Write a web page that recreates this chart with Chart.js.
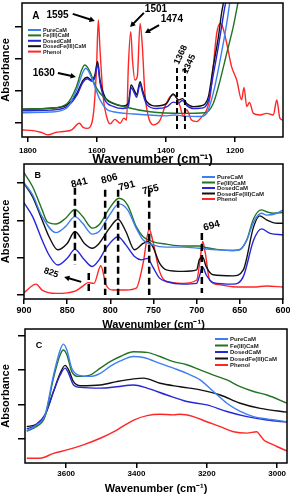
<!DOCTYPE html>
<html>
<head>
<meta charset="utf-8">
<script src="https://cdn.jsdelivr.net/npm/chart.js@4.4.1/dist/chart.umd.min.js"></script>
<style>
  html, body { margin: 0; padding: 0; background: #fff; }
  #wrap { position: relative; width: 290px; height: 496px; }
  .panel { position: absolute; left: 0; top: 0; width: 290px; height: 496px; }
</style>
</head>
<body>
<div id="wrap">
  <div class="panel"><canvas id="chartA"></canvas></div>
  <div class="panel"><canvas id="chartB"></canvas></div>
  <div class="panel"><canvas id="chartC"></canvas></div>
</div>
<script>
// series names, same order in every panel
var seriesNames = ['PureCaM', 'Fe(III)CaM', 'DosedCaM', 'DosedFe(III)CaM', 'Phenol'];

// tick labels
var xTicksA = [1800, 1600, 1400, 1200];
var xTicksB = [900, 850, 800, 750, 700, 650, 600];
var xTicksC = [3600, 3400, 3200, 3000];
var yTicks = [1, 2, 3, 4];

// panel A: [wavenumber, absorbance]
var pureA = [[1815,1.32],[1736,1.34],[1688,1.46],[1659,2.03],[1640,2.60],[1632,2.71],[1615,2.40],[1601,1.98],[1591,1.72],[1572,1.43],[1553,1.35],[1495,1.28],[1398,1.22],[1374,1.25],[1355,1.22],[1301,1.20],[1282,1.30],[1263,1.93],[1243,2.97],[1224,4.11],[1214,4.84],[1200,5.6]];
var feA = [[1815,1.43],[1736,1.46],[1688,1.59],[1659,2.14],[1644,2.66],[1635,2.81],[1620,2.60],[1606,2.19],[1591,1.93],[1562,1.67],[1514,1.49],[1446,1.35],[1350,1.30],[1287,1.32],[1263,1.61],[1243,2.34],[1224,3.18],[1205,4.01],[1190,4.84],[1175,5.6]];
var dosedA = [[1815,1.38],[1736,1.40],[1688,1.50],[1659,1.85],[1640,2.28],[1628,2.38],[1615,2.30],[1606,2.42],[1598,2.82],[1591,2.25],[1577,1.72],[1553,1.52],[1524,1.45],[1509,1.52],[1501,2.10],[1490,1.90],[1485,1.80],[1475,2.22],[1468,1.95],[1456,1.58],[1427,1.45],[1398,1.50],[1379,1.65],[1364,1.62],[1352,1.70],[1340,1.55],[1321,1.45],[1301,1.46],[1287,1.50],[1277,1.70],[1263,2.50],[1248,3.40],[1239,4.00],[1230,4.60],[1222,5.0],[1210,5.6]];
var dosedFeA = [[1815,1.43],[1736,1.46],[1688,1.56],[1659,1.91],[1640,2.34],[1628,2.43],[1615,2.34],[1606,2.50],[1598,2.92],[1591,2.34],[1577,1.82],[1553,1.61],[1524,1.53],[1509,1.61],[1501,2.19],[1490,1.98],[1485,1.88],[1475,2.29],[1468,2.03],[1456,1.67],[1427,1.53],[1398,1.61],[1379,1.91],[1364,1.72],[1352,1.76],[1340,1.61],[1321,1.51],[1301,1.53],[1287,1.59],[1277,1.82],[1263,2.76],[1248,3.70],[1239,4.43],[1232,4.84],[1220,5.6]];
var phenolA = [[1815,0.78],[1785,0.76],[1760,0.70],[1741,0.63],[1720,0.70],[1698,0.73],[1673,0.78],[1651,0.99],[1640,0.86],[1628,0.83],[1615,0.99],[1608,1.51],[1601,2.76],[1596,4.22],[1591,3.28],[1582,1.82],[1572,1.20],[1562,0.97],[1548,1.11],[1533,0.99],[1522,1.15],[1514,1.09],[1509,2.76],[1502,3.85],[1497,2.97],[1490,2.34],[1483,2.45],[1475,4.11],[1469,3.49],[1461,1.93],[1451,1.20],[1437,0.94],[1417,1.09],[1403,1.51],[1388,1.82],[1376,1.88],[1359,1.51],[1350,1.20],[1340,1.41],[1326,1.09],[1311,1.04],[1297,1.18],[1282,1.41],[1272,1.82],[1263,2.76],[1253,3.80],[1243,4.11],[1236,4.01],[1224,3.49],[1210,2.76],[1195,2.34],[1181,1.72],[1174,2.11],[1166,1.51],[1158,1.64],[1147,1.30],[1128,1.25],[1108,1.30],[1089,1.25],[1079,1.72],[1070,1.15],[1062,1.09]];

// panel B
var pureB = [[900,4.01],[890,3.68],[879,3.10],[863,2.67],[852,2.83],[841,3.10],[832,2.92],[821,2.63],[813,2.70],[801,3.14],[790,3.44],[780,3.28],[770,2.79],[762,2.47],[751,2.34],[735,2.28],[716,2.28],[697,2.25],[677,2.21],[658,2.19],[650,2.22],[642,2.47],[634,2.96],[625,3.19],[619,3.14],[607,3.19],[600,3.28]];
var feB = [[900,4.28],[890,3.90],[879,3.28],[873,2.96],[863,2.90],[852,3.05],[841,3.29],[832,3.10],[821,2.79],[813,2.88],[801,3.32],[790,3.59],[780,3.41],[770,2.83],[762,2.56],[751,2.43],[735,2.36],[716,2.31],[697,2.31],[691,2.28],[677,2.22],[658,2.19],[650,2.21],[642,2.47],[634,3.05],[625,3.28],[619,3.23],[611,3.19],[600,3.21]];
var dosedB = [[900,3.47],[890,3.10],[879,2.47],[871,2.07],[861,1.80],[850,1.98],[841,2.22],[830,1.94],[821,1.76],[813,1.94],[805,2.25],[791,2.56],[782,2.34],[772,2.03],[764,1.94],[757,1.98],[751,1.76],[743,1.45],[735,1.36],[716,1.29],[700,1.31],[697,1.49],[693,1.74],[689,1.54],[681,1.33],[658,1.29],[646,1.49],[634,2.47],[625,2.77],[615,2.65],[600,2.61]];
var dosedFeB = [[900,3.99],[890,3.63],[879,3.01],[871,2.56],[861,2.21],[850,2.38],[841,2.70],[830,2.38],[821,2.25],[813,2.38],[801,2.79],[791,3.03],[782,2.70],[772,2.21],[762,2.38],[757,2.43],[751,2.30],[743,1.85],[735,1.67],[716,1.63],[700,1.67],[697,1.94],[693,2.01],[689,1.76],[681,1.54],[658,1.51],[646,1.67],[634,2.83],[627,3.12],[619,3.01],[607,2.92],[600,2.92]];
var phenolB = [[900,1.06],[886,1.29],[879,1.13],[863,1.04],[840,1.11],[830,1.27],[826,1.33],[819,1.31],[811,1.78],[805,1.27],[797,1.13],[782,1.13],[770,1.18],[762,1.85],[755,2.76],[751,2.47],[743,1.63],[735,1.36],[716,1.31],[700,1.40],[696,1.94],[693,2.43],[690,2.12],[685,1.40],[673,1.27],[658,1.22],[634,1.21],[619,1.24],[600,1.21]];

// panel C
var pureC = [[3712,1.23],[3684,1.41],[3660,1.70],[3636,2.86],[3617,3.59],[3608,3.76],[3598,3.59],[3584,3.06],[3565,2.86],[3532,2.82],[3503,2.91],[3475,3.11],[3446,3.27],[3408,3.40],[3380,3.37],[3333,3.20],[3295,3.06],[3257,2.91],[3219,2.72],[3181,2.38],[3143,2.04],[3105,1.80],[3067,1.65],[3029,1.58],[2972,1.50]];
var feC = [[3712,1.23],[3684,1.36],[3660,1.65],[3636,2.77],[3617,3.45],[3608,3.59],[3598,3.45],[3584,2.96],[3565,2.82],[3532,2.86],[3503,3.06],[3475,3.25],[3446,3.40],[3408,3.54],[3370,3.52],[3333,3.40],[3295,3.25],[3257,3.16],[3219,3.01],[3181,2.86],[3143,2.72],[3105,2.52],[3067,2.38],[3029,2.28],[2972,2.04]];
var dosedC = [[3712,1.29],[3684,1.41],[3660,1.70],[3636,2.38],[3617,2.86],[3603,3.06],[3593,2.91],[3579,2.57],[3560,2.50],[3503,2.48],[3456,2.52],[3408,2.57],[3370,2.48],[3314,2.28],[3257,2.09],[3200,1.99],[3143,1.80],[3086,1.65],[3029,1.55],[2972,1.49]];
var dosedFeC = [[3712,1.36],[3684,1.43],[3660,1.70],[3636,2.38],[3617,2.91],[3603,3.14],[3593,3.01],[3579,2.67],[3560,2.55],[3503,2.57],[3456,2.67],[3408,2.75],[3380,2.77],[3333,2.62],[3276,2.52],[3219,2.43],[3162,2.28],[3105,2.04],[3048,1.89],[2972,1.78]];
var phenolC = [[3712,0.44],[3674,0.44],[3636,0.58],[3598,0.68],[3551,0.83],[3503,1.02],[3456,1.26],[3408,1.55],[3370,1.68],[3333,1.72],[3295,1.70],[3276,1.72],[3238,1.65],[3200,1.50],[3162,1.36],[3124,1.21],[3086,1.17],[3058,1.21],[3048,1.10],[3038,0.97],[3020,0.87],[3001,0.78],[2972,0.65]];

var seriesColors = ['#3d7ff2', '#237323', '#2626d6', '#111111', '#ff2626'];
var FONT = '"Liberation Sans", Arial, sans-serif';

// frame, dashed markers, arrows, peak labels and the small legend
var panelDeco = {
    id: 'panelDeco',
    afterDatasetsDraw: function (chart, args, opts) {
        var ctx = chart.ctx, a = chart.chartArea;
        var xs = chart.scales.x, ys = chart.scales.y;
        function px(w) { return xs.getPixelForValue(w); }
        function py(v) { return ys.getPixelForValue(v); }
        ctx.save();
        ctx.strokeStyle = '#000';
        ctx.lineWidth = 1.5;
        ctx.strokeRect(a.left, a.top, a.right - a.left, a.bottom - a.top);

        ctx.lineWidth = opts.dashWidth;
        ctx.setLineDash(opts.dash);
        (opts.dashes || []).forEach(function (d) {
            ctx.beginPath();
            ctx.moveTo(px(d.at), py(d.from));
            ctx.lineTo(px(d.at), py(d.to));
            ctx.stroke();
        });
        ctx.setLineDash([]);

        ctx.lineWidth = 2;
        ctx.fillStyle = '#000';
        (opts.arrows || []).forEach(function (r) {
            var x1 = px(r.from[0]), y1 = py(r.from[1]), x2 = px(r.to[0]), y2 = py(r.to[1]);
            var ang = Math.atan2(y2 - y1, x2 - x1);
            ctx.beginPath();
            ctx.moveTo(x1, y1);
            ctx.lineTo(x2 - 3 * Math.cos(ang), y2 - 3 * Math.sin(ang));
            ctx.stroke();
            ctx.beginPath();
            ctx.moveTo(x2, y2);
            ctx.lineTo(x2 - 6 * Math.cos(ang - 0.5), y2 - 6 * Math.sin(ang - 0.5));
            ctx.lineTo(x2 - 6 * Math.cos(ang + 0.5), y2 - 6 * Math.sin(ang + 0.5));
            ctx.closePath();
            ctx.fill();
        });

        ctx.textAlign = 'center';
        ctx.textBaseline = 'middle';
        (opts.notes || []).forEach(function (n) {
            ctx.save();
            ctx.translate(px(n.at[0]), py(n.at[1]));
            ctx.rotate((n.angle || 0) * Math.PI / 180);
            ctx.font = 'bold ' + n.size + 'px ' + FONT;
            ctx.fillText(n.text, 0, 0);
            ctx.restore();
        });

        var lg = opts.legend;
        ctx.font = 'bold ' + lg.size + 'px ' + FONT;
        ctx.textAlign = 'left';
        chart.data.datasets.forEach(function (ds, i) {
            var yy = a.top + lg.y + i * lg.gap;
            ctx.strokeStyle = ds.borderColor;
            ctx.lineWidth = 2;
            ctx.beginPath();
            ctx.moveTo(a.left + lg.x, yy);
            ctx.lineTo(a.left + lg.x + lg.len, yy);
            ctx.stroke();
            ctx.fillStyle = '#222';
            ctx.fillText(ds.label, a.left + lg.x + lg.len + 2, yy + 0.5);
        });
        ctx.restore();
    }
};

function buildPanel(canvasId, series, cfg) {
    var ctx = document.getElementById(canvasId).getContext('2d');
    new Chart(ctx, {
        type: 'line',
        data: {
            datasets: series.map(function (pts, i) {
                return {
                    label: seriesNames[i],
                    data: pts.map(function (p) { return { x: p[0], y: p[1] }; }),
                    borderColor: seriesColors[i],
                    borderWidth: 1.4,
                    pointRadius: 0,
                    fill: false,
                    cubicInterpolationMode: 'monotone'
                };
            })
        },
        options: {
            responsive: true,
            maintainAspectRatio: false,
            animation: false,
            events: [],
            layout: { padding: cfg.padding },
            plugins: {
                legend: { display: false },
                tooltip: { enabled: false },
                panelDeco: cfg.deco
            },
            scales: {
                x: {
                    type: 'linear',
                    reverse: true,
                    min: cfg.xMin,
                    max: cfg.xMax,
                    afterBuildTicks: function (scale) {
                        scale.ticks = cfg.xTicks.map(function (v) { return { value: v }; });
                    },
                    afterFit: function (scale) {
                        scale.height = cfg.xHeight;
                        scale.paddingLeft = 0;
                        scale.paddingRight = 0;
                    },
                    border: { display: false },
                    grid: { drawOnChartArea: false, color: '#000', lineWidth: 1.5, tickLength: 5 },
                    ticks: {
                        color: '#000',
                        padding: cfg.tickPad,
                        maxRotation: 0,
                        autoSkip: false,
                        font: { family: FONT, size: cfg.tickSize, weight: 'bold' },
                        callback: function (v) { return String(v); }
                    },
                    title: {
                        display: true,
                        text: 'Wavenumber (cm\u207B\u00B9)',
                        color: '#000',
                        padding: 0,
                        font: { family: FONT, size: cfg.titleSize, weight: 'bold', lineHeight: 1 }
                    }
                },
                y: {
                    min: cfg.yMin,
                    max: cfg.yMax,
                    afterBuildTicks: function (scale) {
                        scale.ticks = yTicks.map(function (v) { return { value: v }; });
                    },
                    afterFit: function (scale) { scale.width = cfg.yWidth; },
                    border: { display: false },
                    grid: { drawOnChartArea: false, color: '#000', lineWidth: 1.5, tickLength: 7 },
                    ticks: { display: false },
                    title: {
                        display: true,
                        text: 'Absorbance',
                        color: '#000',
                        padding: 0,
                        font: { family: FONT, size: 11, weight: 'bold', lineHeight: 1 }
                    }
                }
            }
        },
        plugins: [panelDeco]
    });
}

buildPanel('chartA', [pureA, feA, dosedA, dosedFeA, phenolA], {
    padding: { top: 3, bottom: 330, left: 0, right: 7 },
    xMin: 1061, xMax: 1817, xTicks: xTicksA, xHeight: 29, yWidth: 22,
    yMin: 0.56, yMax: 4.75, tickSize: 8, tickPad: 4, titleSize: 13,
    deco: {
        dash: [5, 3], dashWidth: 2,
        dashes: [{ at: 1368, from: 2.72, to: 0.75 }, { at: 1345, from: 2.72, to: 0.75 }],
        arrows: [
            { from: [1670, 4.41], to: [1606, 4.19] },
            { from: [1464, 4.44], to: [1504, 4.00] },
            { from: [1420, 4.06], to: [1461, 3.81] },
            { from: [1713, 2.56], to: [1661, 2.44] }
        ],
        notes: [
            { text: 'A', at: [1777, 4.34], size: 10 },
            { text: '1595', at: [1714, 4.36], size: 10 },
            { text: '1501', at: [1429, 4.56], size: 10 },
            { text: '1474', at: [1383, 4.25], size: 10 },
            { text: '1630', at: [1754, 2.56], size: 10 },
            { text: '1368', at: [1357, 3.13], size: 9, angle: -65 },
            { text: '1345', at: [1333, 2.84], size: 9, angle: -65 }
        ],
        legend: { x: 6, y: 27, gap: 5.4, len: 13, size: 5.5 }
    }
});

buildPanel('chartB', [pureB, feB, dosedB, dosedFeB, phenolB], {
    padding: { top: 164, bottom: 166, left: 0, right: 7 },
    xMin: 600, xMax: 900, xTicks: xTicksB, xHeight: 31, yWidth: 24,
    yMin: 0.89, yMax: 4.51, tickSize: 9, tickPad: 1, titleSize: 11,
    deco: {
        dash: [7, 4], dashWidth: 2.5,
        dashes: [
            { at: 841, from: 3.87, to: 1.80 },
            { at: 806, from: 3.82, to: 1.0 },
            { at: 791, from: 3.82, to: 1.0 },
            { at: 755, from: 3.82, to: 1.0 },
            { at: 694, from: 2.66, to: 1.05 },
            { at: 825, from: 1.59, to: 1.05 }
        ],
        arrows: [{ from: [833.7, 1.35], to: [853.5, 1.48] }],
        notes: [
            { text: 'B', at: [884, 4.19], size: 9 },
            { text: '841', at: [836, 4.0], size: 10, angle: -15 },
            { text: '806', at: [801, 4.11], size: 10, angle: -15 },
            { text: '791', at: [781, 3.92], size: 10, angle: -15 },
            { text: '755', at: [753.5, 3.82], size: 10, angle: -15 },
            { text: '694', at: [682.6, 2.85], size: 10, angle: -15 },
            { text: '825', at: [868.6, 1.59], size: 9, angle: 20 }
        ],
        legend: { x: 178, y: 13, gap: 5.5, len: 13, size: 6 }
    }
});

buildPanel('chartC', [pureC, feC, dosedC, dosedFeC, phenolC], {
    padding: { top: 329, bottom: 2, left: 0, right: 3 },
    xMin: 2972, xMax: 3717, xTicks: xTicksC, xHeight: 31, yWidth: 25,
    yMin: 0.30, yMax: 4.20, tickSize: 8, tickPad: 1, titleSize: 11,
    deco: {
        dash: [5, 3], dashWidth: 2,
        notes: [{ text: 'C', at: [3677, 3.71], size: 9 }],
        legend: { x: 190, y: 10, gap: 6.5, len: 13, size: 6 }
    }
});
</script>
</body>
</html>
